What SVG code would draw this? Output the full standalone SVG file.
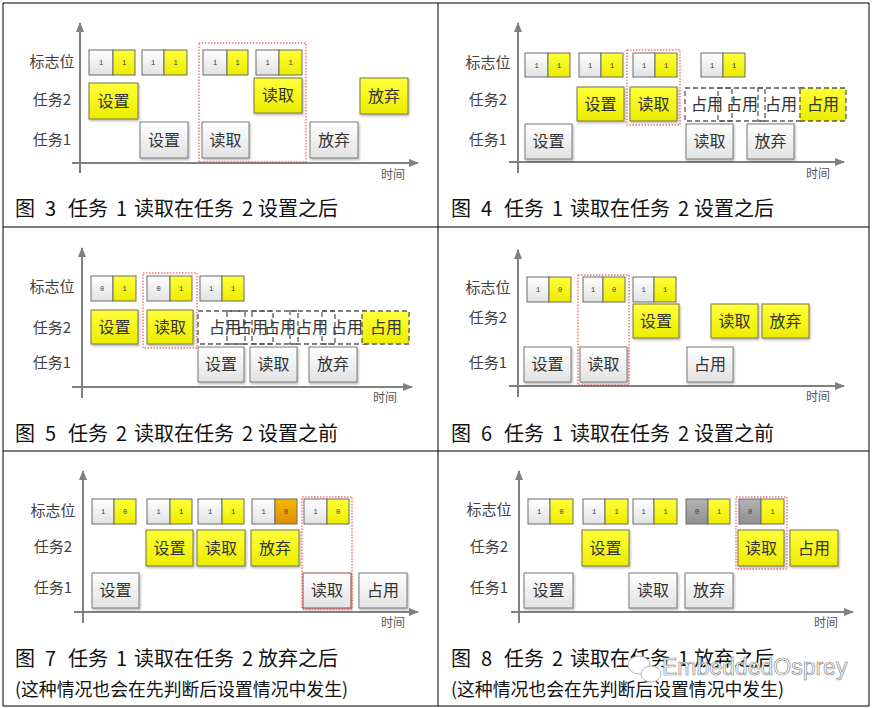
<svg xmlns="http://www.w3.org/2000/svg" width="872" height="708" viewBox="0 0 872 708">
<style>
text{font-family:"Noto Sans CJK SC","Microsoft YaHei",sans-serif}
.ax{stroke:#808080;stroke-width:2;fill:none;marker-end:url(#arr)}
.lbl{font-size:15px;fill:#404040;text-anchor:middle}
.bt{font-size:16px;fill:#333;text-anchor:middle}
.t2{fill:url(#gy);stroke:#77774a;stroke-width:1;filter:url(#sh)}
.t1{fill:url(#gw);stroke:#7a7a7a;stroke-width:1;filter:url(#sh)}
.fl{fill:url(#gw);stroke:#6a6a6a;stroke-width:1}
.fy{fill:url(#gy);stroke:#6a6a6a;stroke-width:1}
.fo{fill:url(#go);stroke:#6a6a6a;stroke-width:1}
.fg{fill:url(#gg);stroke:#6a6a6a;stroke-width:1}
.n{font-family:"Liberation Mono",monospace;font-size:7px;fill:#333;text-anchor:middle}
.red{fill:none;stroke:#e33;stroke-width:1;stroke-dasharray:1.5 1.5}
.dash{fill:none;stroke:#595959;stroke-width:1.3;stroke-dasharray:5 3}
.dashy{fill:url(#gy);stroke:#595959;stroke-width:1.3;stroke-dasharray:5 3}
.tm{font-size:12px;fill:#555;text-anchor:middle}
.cap{font-size:20px;fill:#111}
.cap2{font-size:18px;fill:#111}
.tb{stroke:#000;stroke-width:1;fill:none}
</style>
<defs>
<linearGradient id="gy" x1="0" y1="0" x2="0" y2="1"><stop offset="0" stop-color="#ffff3a"/><stop offset="1" stop-color="#ecec00"/></linearGradient>
<linearGradient id="gw" x1="0" y1="0" x2="0" y2="1"><stop offset="0" stop-color="#ffffff"/><stop offset="1" stop-color="#e2e2e2"/></linearGradient>
<linearGradient id="go" x1="0" y1="0" x2="0" y2="1"><stop offset="0" stop-color="#f5b800"/><stop offset="1" stop-color="#df8e00"/></linearGradient>
<linearGradient id="gg" x1="0" y1="0" x2="0" y2="1"><stop offset="0" stop-color="#b4b4b4"/><stop offset="1" stop-color="#8e8e8e"/></linearGradient>
<filter id="sh" x="-10%" y="-10%" width="130%" height="130%"><feDropShadow dx="1" dy="1.5" stdDeviation="1" flood-color="#000" flood-opacity="0.3"/></filter>
<marker id="arr" viewBox="0 0 10 8" markerWidth="10" markerHeight="8" refX="9" refY="4" orient="auto" markerUnits="userSpaceOnUse"><path d="M0,0 L10,4 L0,8 z" fill="#808080"/></marker>
</defs>
<rect width="872" height="708" fill="#fff"/>
<g id="table">
<line class="tb" x1="3" y1="3" x2="869" y2="3"/>
<line class="tb" x1="3" y1="227" x2="869" y2="227"/>
<line class="tb" x1="3" y1="451" x2="869" y2="451"/>
<line class="tb" x1="3" y1="706" x2="869" y2="706"/>
<line class="tb" x1="3" y1="3" x2="3" y2="706"/>
<line class="tb" x1="438" y1="3" x2="438" y2="706"/>
<line class="tb" x1="869" y1="3" x2="869" y2="706"/>
</g>
<g id="connectors">
<line class="ax" x1="80" y1="173" x2="80" y2="23"/><line class="ax" x1="72" y1="163" x2="418" y2="163"/>
<line class="ax" x1="518" y1="173" x2="518" y2="23"/><line class="ax" x1="509" y1="162" x2="844" y2="162"/>
<line class="ax" x1="82" y1="398" x2="82" y2="248"/><line class="ax" x1="72" y1="387" x2="412" y2="387"/>
<line class="ax" x1="518" y1="397" x2="518" y2="250"/><line class="ax" x1="509" y1="386" x2="844" y2="386"/>
<line class="ax" x1="83" y1="623" x2="83" y2="471"/><line class="ax" x1="74" y1="612" x2="418" y2="612"/>
<line class="ax" x1="519" y1="623" x2="519" y2="471"/><line class="ax" x1="511" y1="612" x2="853" y2="612"/>
</g>

<!-- Figure 3 -->
<g id="fig3">
<g id="fig3-labels"><text class="lbl" x="52" y="67">标志位</text><text class="lbl" x="52" y="105">任务2</text><text class="lbl" x="52" y="145">任务1</text><text class="tm" x="393" y="179">时间</text></g>
<g id="fig3-flag1"><rect class="fl" x="89" y="50" width="24" height="25"/><rect class="fy" x="113" y="50" width="22" height="25"/><text class="n" x="101" y="65">1</text><text class="n" x="124" y="65">1</text></g>
<g id="fig3-flag2"><rect class="fl" x="142" y="50" width="22" height="25"/><rect class="fy" x="164" y="50" width="23" height="25"/><text class="n" x="153" y="65">1</text><text class="n" x="175.5" y="65">1</text></g>
<g id="fig3-flag3"><rect class="fl" x="203" y="50" width="24" height="25"/><rect class="fy" x="227" y="50" width="21" height="25"/><text class="n" x="215" y="65">1</text><text class="n" x="237.5" y="65">1</text></g>
<g id="fig3-flag4"><rect class="fl" x="256" y="50" width="23" height="25"/><rect class="fy" x="279" y="50" width="23" height="25"/><text class="n" x="267.5" y="65">1</text><text class="n" x="290.5" y="65">1</text></g>
<g id="fig3-t2-set"><rect class="t2" x="89" y="83" width="49" height="36"/><text class="bt" x="113.5" y="106.5">设置</text></g>
<g id="fig3-t2-read"><rect class="t2" x="254" y="78" width="48" height="35"/><text class="bt" x="278" y="101">读取</text></g>
<g id="fig3-t2-drop"><rect class="t2" x="360" y="78" width="48" height="36"/><text class="bt" x="384" y="101.5">放弃</text></g>
<g id="fig3-t1-set"><rect class="t1" x="140" y="122" width="48" height="36"/><text class="bt" x="164" y="145.5">设置</text></g>
<g id="fig3-t1-read"><rect class="t1" x="202" y="122" width="47" height="36"/><text class="bt" x="225.5" y="145.5">读取</text></g>
<g id="fig3-t1-drop"><rect class="t1" x="310" y="122" width="48" height="36"/><text class="bt" x="334" y="145.5">放弃</text></g>
<rect class="red" x="199" y="43" width="107" height="119"/>
<text class="cap" y="216"><tspan x="15">图</tspan><tspan x="45">3</tspan><tspan x="68">任务</tspan><tspan x="116">1</tspan><tspan x="134">读取在任务</tspan><tspan x="242">2</tspan><tspan x="258">设置之后</tspan></text>
</g>

<!-- Figure 4 -->
<g id="fig4">
<g id="fig4-labels"><text class="lbl" x="488" y="68">标志位</text><text class="lbl" x="488" y="105">任务2</text><text class="lbl" x="488" y="145">任务1</text><text class="tm" x="818" y="178">时间</text></g>
<g id="fig4-flag1"><rect class="fl" x="525" y="53" width="23" height="24"/><rect class="fy" x="548" y="53" width="22" height="24"/><text class="n" x="536.5" y="67.5">1</text><text class="n" x="559" y="67.5">1</text></g>
<g id="fig4-flag2"><rect class="fl" x="579" y="53" width="22" height="24"/><rect class="fy" x="601" y="53" width="22" height="24"/><text class="n" x="590" y="67.5">1</text><text class="n" x="612" y="67.5">1</text></g>
<g id="fig4-flag3"><rect class="fl" x="633" y="53" width="22" height="24"/><rect class="fy" x="655" y="53" width="22" height="24"/><text class="n" x="644" y="67.5">1</text><text class="n" x="666" y="67.5">1</text></g>
<g id="fig4-flag4"><rect class="fl" x="701" y="53" width="22" height="24"/><rect class="fy" x="723" y="53" width="22" height="24"/><text class="n" x="712" y="67.5">1</text><text class="n" x="734" y="67.5">1</text></g>
<g id="fig4-t2-set"><rect class="t2" x="577" y="87" width="47" height="34"/><text class="bt" x="600.5" y="109.5">设置</text></g>
<g id="fig4-t2-read"><rect class="t2" x="630" y="87" width="47" height="34"/><text class="bt" x="653.5" y="109.5">读取</text></g>
<g id="fig4-t2-use1"><rect class="dash" x="685" y="88" width="47" height="33"/><text class="bt" x="707" y="110">占用</text></g>
<g id="fig4-t2-use2"><rect class="dash" x="718" y="88" width="47" height="33"/><text class="bt" x="742" y="110">占用</text></g>
<g id="fig4-t2-use3"><rect class="dash" x="758" y="88" width="45" height="33"/><text class="bt" x="781" y="110">占用</text></g>
<g id="fig4-t2-use4"><rect class="dashy" x="800" y="88" width="46" height="33"/><text class="bt" x="823" y="110">占用</text></g>
<g id="fig4-t1-set"><rect class="t1" x="525" y="124" width="47" height="35"/><text class="bt" x="548.5" y="147">设置</text></g>
<g id="fig4-t1-read"><rect class="t1" x="686" y="124" width="47" height="35"/><text class="bt" x="709.5" y="147">读取</text></g>
<g id="fig4-t1-drop"><rect class="t1" x="747" y="124" width="47" height="35"/><text class="bt" x="770.5" y="147">放弃</text></g>
<rect class="red" x="627" y="50" width="53" height="75"/>
<text class="cap" y="216"><tspan x="451">图</tspan><tspan x="481">4</tspan><tspan x="504">任务</tspan><tspan x="552">1</tspan><tspan x="570">读取在任务</tspan><tspan x="678">2</tspan><tspan x="694">设置之后</tspan></text>
</g>

<!-- Figure 5 -->
<g id="fig5">
<g id="fig5-labels"><text class="lbl" x="52" y="292">标志位</text><text class="lbl" x="52" y="333">任务2</text><text class="lbl" x="52" y="368">任务1</text><text class="tm" x="385" y="402">时间</text></g>
<g id="fig5-flag1"><rect class="fl" x="91" y="276" width="22" height="25"/><rect class="fy" x="113" y="276" width="23" height="25"/><text class="n" x="102" y="291">0</text><text class="n" x="124.5" y="291">1</text></g>
<g id="fig5-flag2"><rect class="fl" x="147" y="276" width="23" height="25"/><rect class="fy" x="170" y="276" width="22" height="25"/><text class="n" x="158.5" y="291">0</text><text class="n" x="181" y="291">1</text></g>
<g id="fig5-flag3"><rect class="fl" x="200" y="276" width="22" height="25"/><rect class="fy" x="222" y="276" width="22" height="25"/><text class="n" x="211" y="291">1</text><text class="n" x="233" y="291">1</text></g>
<g id="fig5-t2-set"><rect class="t2" x="91" y="310" width="47" height="34"/><text class="bt" x="114.5" y="332.5">设置</text></g>
<g id="fig5-t2-read"><rect class="t2" x="147" y="310" width="46" height="34"/><text class="bt" x="170" y="332.5">读取</text></g>
<g id="fig5-t2-use1"><rect class="dash" x="198" y="311" width="47" height="33"/><text class="bt" x="225" y="333">占用</text></g>
<g id="fig5-t2-use2"><rect class="dash" x="227" y="311" width="46" height="33"/><text class="bt" x="252" y="333">占用</text></g>
<g id="fig5-t2-use3"><rect class="dash" x="252" y="311" width="46" height="33"/><text class="bt" x="280" y="333">占用</text></g>
<g id="fig5-t2-use4"><rect class="dash" x="290" y="311" width="45" height="33"/><text class="bt" x="312" y="333">占用</text></g>
<g id="fig5-t2-use5"><rect class="dash" x="322" y="311" width="46" height="33"/><text class="bt" x="347" y="333">占用</text></g>
<g id="fig5-t2-use6"><rect class="dashy" x="362" y="311" width="47" height="33"/><text class="bt" x="386" y="333">占用</text></g>
<g id="fig5-t1-set"><rect class="t1" x="198" y="347" width="46" height="35"/><text class="bt" x="221" y="370">设置</text></g>
<g id="fig5-t1-read"><rect class="t1" x="250" y="347" width="47" height="35"/><text class="bt" x="273.5" y="370">读取</text></g>
<g id="fig5-t1-drop"><rect class="t1" x="309" y="347" width="48" height="35"/><text class="bt" x="333" y="370">放弃</text></g>
<rect class="red" x="143" y="273" width="54" height="75"/>
<text class="cap" y="441"><tspan x="15">图</tspan><tspan x="45">5</tspan><tspan x="68">任务</tspan><tspan x="116">2</tspan><tspan x="134">读取在任务</tspan><tspan x="242">2</tspan><tspan x="258">设置之前</tspan></text>
</g>

<!-- Figure 6 -->
<g id="fig6">
<g id="fig6-labels"><text class="lbl" x="488" y="293">标志位</text><text class="lbl" x="488" y="323">任务2</text><text class="lbl" x="488" y="368">任务1</text><text class="tm" x="818" y="401">时间</text></g>
<g id="fig6-flag1"><rect class="fl" x="527" y="277" width="22" height="25"/><rect class="fy" x="549" y="277" width="22" height="25"/><text class="n" x="538" y="292">1</text><text class="n" x="560" y="292">0</text></g>
<g id="fig6-flag2"><rect class="fl" x="583" y="277" width="20" height="25"/><rect class="fy" x="603" y="277" width="22" height="25"/><text class="n" x="593" y="292">1</text><text class="n" x="614" y="292">0</text></g>
<g id="fig6-flag3"><rect class="fl" x="633" y="277" width="21" height="25"/><rect class="fy" x="654" y="277" width="22" height="25"/><text class="n" x="643.5" y="292">1</text><text class="n" x="665" y="292">1</text></g>
<g id="fig6-t2-set"><rect class="t2" x="633" y="304" width="46" height="34"/><text class="bt" x="656" y="326.5">设置</text></g>
<g id="fig6-t2-read"><rect class="t2" x="711" y="304" width="47" height="34"/><text class="bt" x="734.5" y="326.5">读取</text></g>
<g id="fig6-t2-drop"><rect class="t2" x="762" y="304" width="47" height="34"/><text class="bt" x="785.5" y="326.5">放弃</text></g>
<g id="fig6-t1-set"><rect class="t1" x="524" y="347" width="47" height="35"/><text class="bt" x="547.5" y="370">设置</text></g>
<g id="fig6-t1-read"><rect class="t1" x="580" y="347" width="47" height="35"/><text class="bt" x="603.5" y="370">读取</text></g>
<g id="fig6-t1-use"><rect class="t1" x="687" y="347" width="46" height="35"/><text class="bt" x="710" y="370">占用</text></g>
<rect class="red" x="578" y="275" width="51" height="110"/>
<text class="cap" y="441"><tspan x="451">图</tspan><tspan x="481">6</tspan><tspan x="504">任务</tspan><tspan x="552">1</tspan><tspan x="570">读取在任务</tspan><tspan x="678">2</tspan><tspan x="694">设置之前</tspan></text>
</g>

<!-- Figure 7 -->
<g id="fig7">
<g id="fig7-labels"><text class="lbl" x="53" y="516">标志位</text><text class="lbl" x="53" y="552">任务2</text><text class="lbl" x="53" y="593">任务1</text><text class="tm" x="393" y="627">时间</text></g>
<g id="fig7-flag1"><rect class="fl" x="92" y="499" width="22" height="25"/><rect class="fy" x="114" y="499" width="22" height="25"/><text class="n" x="103" y="514">1</text><text class="n" x="125" y="514">0</text></g>
<g id="fig7-flag2"><rect class="fl" x="147" y="499" width="23" height="25"/><rect class="fy" x="170" y="499" width="22" height="25"/><text class="n" x="158.5" y="514">1</text><text class="n" x="181" y="514">1</text></g>
<g id="fig7-flag3"><rect class="fl" x="198" y="499" width="24" height="25"/><rect class="fy" x="222" y="499" width="22" height="25"/><text class="n" x="210" y="514">1</text><text class="n" x="233" y="514">1</text></g>
<g id="fig7-flag4"><rect class="fl" x="252" y="499" width="23" height="25"/><rect class="fo" x="275" y="499" width="22" height="25"/><text class="n" x="263.5" y="514">1</text><text class="n" x="286" y="514">0</text></g>
<g id="fig7-flag5"><rect class="fl" x="304" y="499" width="23" height="25"/><rect class="fy" x="327" y="499" width="22" height="25"/><text class="n" x="315.5" y="514">1</text><text class="n" x="338" y="514">0</text></g>
<g id="fig7-t2-set"><rect class="t2" x="146" y="530" width="47" height="36"/><text class="bt" x="169.5" y="553.5">设置</text></g>
<g id="fig7-t2-read"><rect class="t2" x="197" y="530" width="48" height="36"/><text class="bt" x="221" y="553.5">读取</text></g>
<g id="fig7-t2-drop"><rect class="t2" x="251" y="530" width="48" height="36"/><text class="bt" x="275" y="553.5">放弃</text></g>
<g id="fig7-t1-set"><rect class="t1" x="92" y="573" width="47" height="35"/><text class="bt" x="115.5" y="596">设置</text></g>
<g id="fig7-t1-read"><rect class="t1" x="303" y="573" width="48" height="35" style="stroke:#9a4a4a"/><text class="bt" x="327" y="596">读取</text></g>
<g id="fig7-t1-use"><rect class="t1" x="359" y="573" width="48" height="35"/><text class="bt" x="383" y="596">占用</text></g>
<rect class="red" x="302" y="497" width="50" height="112"/>
<text class="cap" y="666"><tspan x="15">图</tspan><tspan x="45">7</tspan><tspan x="68">任务</tspan><tspan x="116">1</tspan><tspan x="134">读取在任务</tspan><tspan x="242">2</tspan><tspan x="258">放弃之后</tspan></text>
<text class="cap2" x="15" y="696" textLength="333" lengthAdjust="spacingAndGlyphs">(这种情况也会在先判断后设置情况中发生)</text>
</g>

<!-- Figure 8 -->
<g id="fig8">
<g id="fig8-labels"><text class="lbl" x="489" y="515">标志位</text><text class="lbl" x="489" y="552">任务2</text><text class="lbl" x="489" y="593">任务1</text><text class="tm" x="826" y="627">时间</text></g>
<g id="fig8-flag1"><rect class="fl" x="528" y="499" width="22" height="25"/><rect class="fy" x="550" y="499" width="23" height="25"/><text class="n" x="539" y="514">1</text><text class="n" x="561.5" y="514">0</text></g>
<g id="fig8-flag2"><rect class="fl" x="583" y="499" width="22" height="25"/><rect class="fy" x="605" y="499" width="23" height="25"/><text class="n" x="594" y="514">1</text><text class="n" x="616.5" y="514">1</text></g>
<g id="fig8-flag3"><rect class="fl" x="633" y="499" width="21" height="25"/><rect class="fy" x="654" y="499" width="23" height="25"/><text class="n" x="643.5" y="514">1</text><text class="n" x="665.5" y="514">1</text></g>
<g id="fig8-flag4"><rect class="fg" x="686" y="499" width="22" height="25"/><rect class="fy" x="708" y="499" width="22" height="25"/><text class="n" x="697" y="514">0</text><text class="n" x="719" y="514">1</text></g>
<g id="fig8-flag5"><rect class="fg" x="739" y="499" width="22" height="25"/><rect class="fy" x="761" y="499" width="23" height="25"/><text class="n" x="750" y="514">0</text><text class="n" x="772.5" y="514">1</text></g>
<g id="fig8-t2-set"><rect class="t2" x="582" y="530" width="47" height="36"/><text class="bt" x="605.5" y="553.5">设置</text></g>
<g id="fig8-t2-read"><rect class="t2" x="738" y="530" width="46" height="36"/><text class="bt" x="761" y="553.5">读取</text></g>
<g id="fig8-t2-use"><rect class="t2" x="790" y="530" width="48" height="36"/><text class="bt" x="814" y="553.5">占用</text></g>
<g id="fig8-t1-set"><rect class="t1" x="524" y="573" width="49" height="35"/><text class="bt" x="548.5" y="596">设置</text></g>
<g id="fig8-t1-read"><rect class="t1" x="629" y="573" width="48" height="35"/><text class="bt" x="653" y="596">读取</text></g>
<g id="fig8-t1-drop"><rect class="t1" x="685" y="573" width="48" height="35"/><text class="bt" x="709" y="596">放弃</text></g>
<rect class="red" x="736" y="497" width="51" height="72"/>
<text class="cap" y="666"><tspan x="451">图</tspan><tspan x="481">8</tspan><tspan x="504">任务</tspan><tspan x="552">2</tspan><tspan x="570">读取在任务</tspan><tspan x="678">1</tspan><tspan x="694">放弃之后</tspan></text>
<text class="cap2" x="451" y="696" textLength="333" lengthAdjust="spacingAndGlyphs">(这种情况也会在先判断后设置情况中发生)</text>
</g>

<g id="watermark">
<ellipse cx="639" cy="665" rx="11" ry="9" fill="#fff" stroke="#a0a0a0" stroke-width="0.8"/>
<ellipse cx="651" cy="674" rx="10" ry="8" fill="#fff" stroke="#a0a0a0" stroke-width="0.8"/>
<text x="662" y="675" style="font-family:'Liberation Sans',Arial,sans-serif;font-size:23px;fill:#fff;stroke:#8a8a8a;stroke-width:0.7">EmbeddedOsprey</text>
</g>
</svg>
